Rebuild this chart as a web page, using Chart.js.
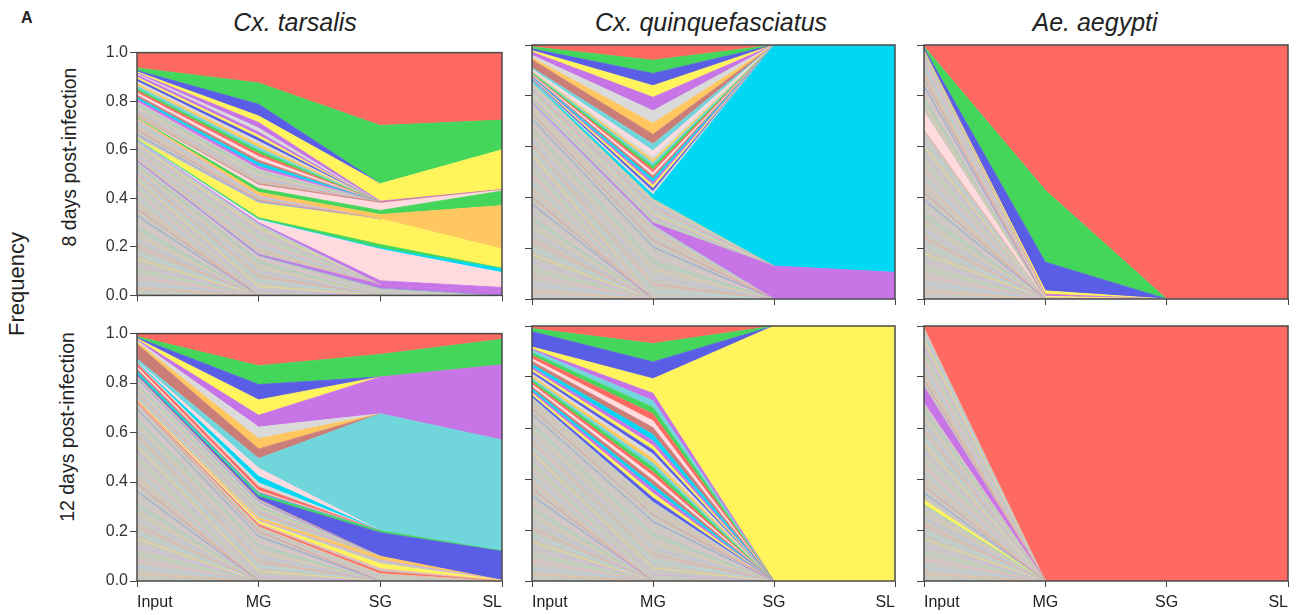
<!DOCTYPE html>
<html>
<head>
<meta charset="utf-8">
<script src="https://cdn.jsdelivr.net/npm/chart.js@4.4.1/dist/chart.umd.min.js"></script>
<style>
  body { margin: 0; background: #fff; width: 1306px; height: 615px; position: relative; overflow: hidden;
         font-family: 'Liberation Sans', Arial, sans-serif; color: #222; }
  canvas { position: absolute; }
  .t { position: absolute; white-space: nowrap; line-height: 1; }
  .title { font-size: 25px; font-style: italic; top: 10px; transform: translateX(-50%); }
  .rot { transform: translate(-50%, -50%) rotate(-90deg); }
</style>
</head>
<body>
<div class="t" style="left:21px;top:10px;font-size:16px;font-weight:bold">A</div>
<div class="t title" style="left:295px">Cx. tarsalis</div>
<div class="t title" style="left:711px">Cx. quinquefasciatus</div>
<div class="t title" style="left:1095px">Ae. aegypti</div>
<div class="t rot" style="left:17px;top:284px;font-size:22px">Frequency</div>
<div class="t rot" style="left:70px;top:157px;font-size:19.5px">8 days post-infection</div>
<div class="t rot" style="left:68px;top:427px;font-size:19.5px">12 days post-infection</div>

<script>
var categories = ['Input', 'MG', 'SG', 'SL'];
var yTicks = [0, 0.2, 0.4, 0.6, 0.8, 1.0];

//- minor variants, read off the fans of thin lines -
// single numbers: frequency at Input only; pairs: [Input, MG]
var tar8FanA = [0.030, 0.020, 0.025, 0.030, 0.018, 0.028, 0.022, 0.030, 0.025, 0.020, 0.030, 0.026, 0.024, 0.028, 0.022, 0.030, 0.022, 0.020];
var tar8FanB1 = [[0.012, 0.020], [0.014, 0.018], [0.010, 0.022], [0.013, 0.019], [0.012, 0.020], [0.015, 0.018], [0.011, 0.021], [0.013, 0.017]];
var tar8FanB2 = [[0.012, 0.018], [0.010, 0.020], [0.013, 0.016], [0.011, 0.019], [0.012, 0.017], [0.010, 0.018], [0.012, 0.017]];
var tar8FanC1 = [[0.016, 0.006], [0.018, 0.007], [0.015, 0.005], [0.016, 0.006], [0.015, 0.006]];
var tar8FanC2 = [[0.012, 0.012], [0.013, 0.011], [0.011, 0.013], [0.012, 0.012], [0.012, 0.012]];
var tar8FanC3 = [[0.010, 0.012], [0.008, 0.014], [0.009, 0.011], [0.010, 0.015], [0.009, 0.012], [0.008, 0.013],
                 [0.011, 0.012], [0.009, 0.014], [0.010, 0.012], [0.009, 0.013], [0.008, 0.012], [0.010, 0.013]];

var tar12FanA = [0.028, 0.030, 0.025, 0.032, 0.026, 0.030, 0.024, 0.028, 0.030, 0.026, 0.030, 0.025, 0.028, 0.032, 0.024, 0.028, 0.026, 0.028];
var tar12FanB = [[0.024, 0.018], [0.020, 0.022], [0.022, 0.020], [0.025, 0.019], [0.019, 0.021], [0.023, 0.020], [0.021, 0.022], [0.022, 0.018], [0.020, 0.021], [0.024, 0.019]];
var tar12FanB2 = [[0.009, 0.009], [0.012, 0.010], [0.014, 0.009], [0.011, 0.010], [0.013, 0.009], [0.012, 0.009], [0.013, 0.010], [0.012, 0.009]];
var tar12FanC = [[0.010, 0.005], [0.011, 0.005], [0.009, 0.005], [0.010, 0.005]];

var quin8FanA = [0.030, 0.028, 0.032, 0.026, 0.030, 0.028, 0.025, 0.030, 0.032, 0.027, 0.029, 0.026, 0.031, 0.028, 0.030, 0.027, 0.029, 0.028, 0.026, 0.028];
var quin8FanB = [[0.020, 0.030], [0.018, 0.028], [0.022, 0.029], [0.019, 0.031], [0.021, 0.027], [0.020, 0.030], [0.020, 0.029], [0.019, 0.028], [0.021, 0.030], [0.020, 0.028]];
var quin8FanC = [[0.010, 0.012], [0.011, 0.011], [0.009, 0.013], [0.010, 0.012], [0.011, 0.012], [0.010, 0.011], [0.010, 0.012], [0.010, 0.012]];
var quin8FanD = [[0.003, 0.013], [0.004, 0.012], [0.003, 0.013], [0.004, 0.012], [0.003, 0.013], [0.003, 0.012],
                 [0.004, 0.013], [0.003, 0.012], [0.004, 0.013], [0.003, 0.013], [0.003, 0.012], [0.003, 0.014]];

var quin12FanA = [0.026, 0.024, 0.028, 0.025, 0.027, 0.024, 0.026, 0.025, 0.027, 0.026, 0.024, 0.028, 0.025, 0.026, 0.025, 0.027, 0.024, 0.023];
var quin12FanB = [[0.022, 0.026], [0.021, 0.025], [0.023, 0.027], [0.020, 0.026], [0.022, 0.025], [0.021, 0.026],
                  [0.023, 0.026], [0.022, 0.025], [0.021, 0.027], [0.022, 0.026], [0.021, 0.025], [0.022, 0.026]];
var quin12FanC = [[0.008, 0.016], [0.009, 0.018], [0.008, 0.017], [0.009, 0.016], [0.008, 0.018], [0.009, 0.017], [0.008, 0.016],
                  [0.009, 0.018], [0.008, 0.017], [0.009, 0.017], [0.008, 0.018], [0.009, 0.016], [0.008, 0.017], [0.009, 0.019],
                  [0.011, 0.025], [0.012, 0.027], [0.010, 0.026], [0.012, 0.028], [0.011, 0.025], [0.011, 0.026]];

var aeg8FanA1 = [0.030, 0.032, 0.028, 0.031, 0.029, 0.030, 0.033, 0.027, 0.030, 0.031, 0.029, 0.032, 0.028, 0.030, 0.031, 0.029, 0.030, 0.032, 0.028, 0.031, 0.029, 0.035];
var aeg8FanA2 = [0.026, 0.025, 0.027, 0.024, 0.026, 0.025, 0.027, 0.026, 0.026];

var aeg12FanA1 = [0.028, 0.026, 0.030, 0.027, 0.029, 0.025, 0.028, 0.026, 0.027, 0.026, 0.028];
var aeg12FanA2 = [0.028, 0.026, 0.029, 0.027, 0.025, 0.028, 0.026, 0.030, 0.027, 0.026, 0.028, 0.027, 0.026, 0.027];
var aeg12FanA3 = [0.025, 0.027, 0.026, 0.024, 0.027, 0.026, 0.025, 0.026, 0.026];

function fan(list, kind) {
  return list.map(function (v) {
    return [kind || 'fan', Array.isArray(v) ? [v[0], v[1], 0, 0] : [v, 0, 0, 0]];
  });
}

//- each panel: variants from bottom to top, frequencies at [Input, MG, SG, SL] -
var tar8 = [].concat(
  fan(tar8FanA), fan(tar8FanB1),
  [['minor', [0.003, 0.010, 0.030, 0]], ['purple', [0.002, 0.004, 0.015, 0.015]]],
  fan(tar8FanB2),
  [['purple', [0.002, 0.006, 0.015, 0.018]], ['pink', [0.003, 0.012, 0.130, 0.061]],
   ['cyan', [0.001, 0.002, 0.005, 0.016]], ['green', [0.002, 0.006, 0.015, 0.002]],
   ['yellow', [0.004, 0.060, 0.105, 0.079]]],
  fan(tar8FanC1),
  [['orange', [0.003, 0.015, 0.018, 0.179]], ['green', [0.003, 0.015, 0.017, 0.060]],
   ['pink', [0.003, 0.015, 0.030, 0.004]], ['brown', [0.002, 0.005, 0.004, 0.002]]],
  fan(tar8FanC2), fan(tar8FanC3, 'strip'),
  [['lightgray', [0.004, 0.016, 0, 0]], ['purple', [0.004, 0.023, 0.004, 0]],
   ['yellow', [0.004, 0.027, 0.072, 0.164]], ['blue', [0.005, 0.048, 0, 0]],
   ['green', [0.011, 0.088, 0.240, 0.122]], ['red', [0.063, 0.125, 0.300, 0.278]]]
);

var tar12 = [].concat(
  fan(tar12FanA), fan(tar12FanB),
  [['minor', [0.004, 0.020, 0.030, 0]], ['red', [0.002, 0.006, 0.008, 0]],
   ['minor', [0.002, 0.006, 0.012, 0]], ['yellow', [0.003, 0.009, 0.020, 0.003]],
   ['minor', [0.002, 0.006, 0.015, 0]], ['orange', [0.002, 0.008, 0.015, 0]]],
  fan(tar12FanB2),
  [['blue', [0.004, 0.012, 0.095, 0.117]], ['green', [0.002, 0.008, 0.008, 0.002]]],
  fan(tar12FanC, 'strip'),
  [['red', [0.002, 0.010, 0, 0]], ['lightgray', [0.003, 0.017, 0, 0]],
   ['cyan', [0.003, 0.026, 0, 0]], ['pink', [0.003, 0.033, 0, 0]],
   ['teal', [0.010, 0.039, 0.473, 0.448]], ['brown', [0.060, 0.039, 0, 0]],
   ['orange', [0.008, 0.041, 0, 0]], ['lightgray', [0.006, 0.047, 0, 0]],
   ['purple', [0.004, 0.048, 0.149, 0.304]], ['yellow', [0.004, 0.062, 0, 0]],
   ['blue', [0.004, 0.062, 0, 0]], ['green', [0.004, 0.076, 0.091, 0.103]],
   ['red', [0.012, 0.130, 0.084, 0.023]]]
);

var quin8 = [].concat(
  fan(quin8FanA), fan(quin8FanB),
  [['purple', [0.004, 0.010, 0.130, 0.105]]],
  fan(quin8FanC),
  [['cyan', [0.004, 0.015, 0.870, 0.895]]],
  fan(quin8FanD, 'strip'),
  [['pink', [0.005, 0.021, 0, 0]], ['teal', [0.006, 0.027, 0, 0]],
   ['brown', [0.032, 0.038, 0, 0]], ['orange', [0.008, 0.044, 0, 0]],
   ['lightgray', [0.010, 0.049, 0, 0]], ['purple', [0.012, 0.053, 0, 0]],
   ['yellow', [0.006, 0.046, 0, 0]], ['blue', [0.007, 0.048, 0, 0]],
   ['green', [0.008, 0.052, 0, 0]], ['red', [0.007, 0.060, 0, 0]]]
);

var quin12 = [].concat(
  fan(quin12FanA), fan(quin12FanB), fan(quin12FanC, 'strip'),
  [['purple', [0.004, 0.029, 0, 0]], ['yellow', [0.008, 0.057, 1, 1]],
   ['blue', [0.060, 0.066, 0, 0]], ['green', [0.012, 0.072, 0, 0]],
   ['red', [0.010, 0.069, 0, 0]]]
);

var aeg8 = [].concat(
  fan(aeg8FanA1),
  [['pink', [0.072, 0, 0, 0]]],
  fan(aeg8FanA2),
  [['minor', [0.003, 0.005, 0, 0]], ['yellow', [0.003, 0.006, 0, 0]],
   ['purple', [0.002, 0.008, 0, 0]], ['yellow', [0.003, 0.013, 0, 0]],
   ['blue', [0.008, 0.113, 0, 0]], ['green', [0.006, 0.283, 0, 0]],
   ['red', [0.006, 0.572, 1, 1]]]
);

var aeg12 = [].concat(
  fan(aeg12FanA1),
  [['yellow', [0.018, 0, 0, 0]]],
  fan(aeg12FanA2),
  [['purple', [0.065, 0, 0, 0]]],
  fan(aeg12FanA3),
  [['red', [0.005, 1, 1, 1]]]
);

//- styles -
var palette = {
  red: '#fe6961', green: '#43d65b', blue: '#5a5de6', yellow: '#fff45c', purple: '#c674e6',
  orange: '#ffc760', pink: '#ffdbe0', cyan: '#00d7f3', teal: '#71d6dc', brown: '#cb7d78',
  lightgray: '#dadada', gray: '#c9c9c1'
};
var fanLines = ['#f2b48c', '#a9c6ee', '#f4a9bd', '#a6dba0', '#cfa8ea', '#f1d775', '#9fd8e4',
                '#eea093', '#b7b7ee', '#e7c796', '#88d6a8', '#f0b7d6', '#7f8fe0', '#e88a8a'];
var stripColors = ['#00d7f3', '#cb7d78', '#ffdbe0', '#fe6961', '#43d65b', '#71d6dc', '#ffc760',
                   '#dadada', '#5a5de6', '#fff45c', '#c674e6'];
var FONT = "'Liberation Sans', Arial, sans-serif";

var plotLeft = [137, 532, 924];
var plotW = [365, 363, 364];
var plotTop = [45, 326];
var plotH = [254, 255];
var xAxisH = [8, 32];
var Y_AXIS_W = 45, PAD_TOP = 4, PAD_RIGHT = 6;

var framePlugin = {
  id: 'frame',
  afterDraw: function (chart) {
    var a = chart.chartArea, ctx = chart.ctx;
    ctx.save();
    ctx.strokeStyle = '#4a4a4a';
    ctx.lineWidth = 1.5;
    ctx.strokeRect(a.left, a.top, a.right - a.left, a.bottom - a.top);
    ctx.restore();
  }
};

// upper edge of every band, left out where the band is absent at both ends
var edgePlugin = {
  id: 'edges',
  afterDatasetsDraw: function (chart) {
    var ctx = chart.ctx, a = chart.chartArea;
    ctx.save();
    ctx.beginPath();
    ctx.rect(a.left, a.top, a.right - a.left, a.bottom - a.top);
    ctx.clip();
    for (var i = chart.data.datasets.length - 1; i >= 0; i--) {
      var ds = chart.data.datasets[i];
      var pts = chart.getDatasetMeta(i).data;
      ctx.strokeStyle = ds.edgeColor;
      ctx.lineWidth = ds.edgeWidth;
      ctx.beginPath();
      for (var j = 0; j < pts.length - 1; j++) {
        if (ds.data[j] === 0 && ds.data[j + 1] === 0) continue;
        ctx.moveTo(pts[j].x, pts[j].y);
        ctx.lineTo(pts[j + 1].x, pts[j + 1].y);
      }
      ctx.stroke();
    }
    ctx.restore();
  }
};

function toDatasets(layers) {
  return layers.map(function (layer, i) {
    var kind = layer[0];
    var fillColor, lineColor, lineWidth;
    if (kind === 'fan' || kind === 'minor') {
      fillColor = palette.gray;
      lineColor = fanLines[i % fanLines.length];
      lineWidth = 0.75;
    } else if (kind === 'strip') {
      fillColor = stripColors[i % stripColors.length];
      lineColor = fillColor;
      lineWidth = 0.6;
    } else {
      fillColor = palette[kind];
      lineColor = fillColor;
      lineWidth = 0.8;
    }
    return {
      data: layer[1],
      fill: i === 0 ? 'origin' : '-1',
      backgroundColor: fillColor,
      borderColor: 'rgba(0,0,0,0)',
      borderWidth: 0,
      edgeColor: lineColor,
      edgeWidth: lineWidth,
      pointRadius: 0,
      pointHitRadius: 0,
      tension: 0
    };
  });
}

function makePanel(layers, col, row) {
  var canvas = document.createElement('canvas');
  canvas.width = Y_AXIS_W + plotW[col] + PAD_RIGHT;
  canvas.height = PAD_TOP + plotH[row] + xAxisH[row];
  canvas.style.left = (plotLeft[col] - Y_AXIS_W) + 'px';
  canvas.style.top = (plotTop[row] - PAD_TOP) + 'px';
  document.body.appendChild(canvas);

  new Chart(canvas, {
    type: 'line',
    data: { labels: categories, datasets: toDatasets(layers) },
    options: {
      responsive: false,
      animation: false,
      devicePixelRatio: 1,
      layout: { padding: { top: PAD_TOP, right: PAD_RIGHT, left: 0, bottom: 0 } },
      plugins: { legend: { display: false }, tooltip: { enabled: false } },
      scales: {
        x: {
          afterFit: function (s) { s.height = xAxisH[row]; },
          border: { display: false },
          grid: { drawOnChartArea: false, drawTicks: true, tickLength: 6, tickColor: '#444' },
          ticks: {
            display: row === 1, align: 'inner', padding: 6, maxRotation: 0, autoSkip: false,
            color: '#222', font: { family: FONT, size: 16 }
          }
        },
        y: {
          stacked: true,
          min: 0,
          max: 1,
          z: 1,
          afterFit: function (s) { s.width = Y_AXIS_W; },
          afterBuildTicks: function (s) { s.ticks = yTicks.map(function (v) { return { value: v }; }); },
          border: { display: false },
          grid: {
            color: function (c) { return (c.tick.value > 0 && c.tick.value < 1) ? 'rgba(0,0,0,0.13)' : 'rgba(0,0,0,0)'; },
            tickColor: '#444',
            tickLength: 7
          },
          ticks: {
            display: col === 0, padding: 2, color: '#333', font: { family: FONT, size: 16 },
            callback: function (v) { return Number(v).toFixed(1); }
          }
        }
      }
    },
    plugins: [edgePlugin, framePlugin]
  });
}

makePanel(tar8, 0, 0);
makePanel(quin8, 1, 0);
makePanel(aeg8, 2, 0);
makePanel(tar12, 0, 1);
makePanel(quin12, 1, 1);
makePanel(aeg12, 2, 1);
</script>
</body>
</html>
